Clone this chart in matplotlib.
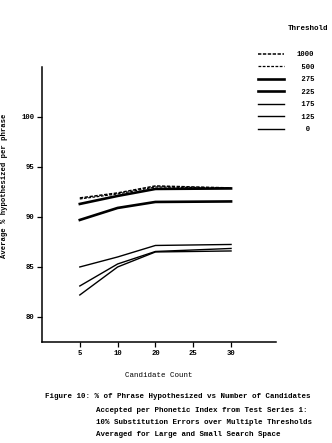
import matplotlib.pyplot as plt

plt.rcParams['font.family'] = 'Liberation Mono'
plt.rcParams['font.weight'] = 'bold'

# categorical x positions on the axis
candidate_ticks = [5, 10, 20, 25, 30]
candidates = [5, 10, 20, 30]

thresholds = ['1000', ' 500', ' 275', ' 225', ' 175', ' 125', '  0']
t1000 = [91.9, 92.4, 93.1, 92.9]
t500 = [91.8, 92.3, 93.0, 92.9]
t275 = [91.3, 92.1, 92.8, 92.85]
t225 = [89.7, 90.9, 91.5, 91.55]
t175 = [85.0, 86.0, 87.15, 87.25]
t125 = [83.1, 85.3, 86.55, 86.85]
t0 = [82.2, 85.0, 86.5, 86.6]

series = [t1000, t500, t275, t225, t175, t125, t0]
styles = [(1.1, (0, (2.2, 1.0))), (0.9, (0, (2.2, 1.2))), (1.9, '-'), (1.9, '-'),
          (1.0, '-'), (1.0, '-'), (1.0, '-')]

fig = plt.figure(figsize=(3.32, 4.43), dpi=100)
ax = fig.add_axes([0.1265, 0.228, 0.705, 0.621])

xpos = [candidate_ticks.index(c) for c in candidates]
handles = []
for vals, lab, (lw, ls) in zip(series, thresholds, styles):
    h, = ax.plot(xpos, vals, color='black', lw=lw, linestyle=ls, label=lab)
    handles.append(h)

ax.set_xlim(-1.0, 5.19)
ax.set_ylim(77.5, 105)
ax.set_xticks(range(len(candidate_ticks)))
ax.set_xticklabels([str(c) for c in candidate_ticks])
ax.set_yticks([80, 85, 90, 95, 100])
ax.spines['top'].set_visible(False)
ax.spines['right'].set_visible(False)
ax.spines['left'].set_linewidth(1.1)
ax.spines['bottom'].set_linewidth(1.1)
ax.tick_params(labelsize=5.2, length=3.5, width=0.9, pad=2)

ax.set_xlabel('Candidate Count', fontsize=5.4, labelpad=11)
fig.text(5 / 332, 1 - 186 / 443, 'Average % hypothesized per phrase',
         fontsize=5.2, rotation=90, ha='center', va='center')

fig.text(308 / 332, 1 - 28 / 443, 'Threshold', fontsize=5.4,
         ha='center', va='center')
leg = fig.legend(handles=handles, labels=thresholds,
                 loc='upper left', bbox_to_anchor=(258 / 332, 1 - 51 / 443),
                 frameon=False, fontsize=5.2, handlelength=3.6,
                 handletextpad=1.8, labelspacing=0.76, borderpad=0,
                 borderaxespad=0)

caption = ['Figure 10: % of Phrase Hypothesized vs Number of Candidates',
           'Accepted per Phonetic Index from Test Series 1:',
           '10% Substitution Errors over Multiple Thresholds',
           'Averaged for Large and Small Search Space']
fig.text(45 / 332, 1 - 397 / 443, caption[0], fontsize=5.4, va='center')
for i, line in enumerate(caption[1:]):
    fig.text(96 / 332, 1 - (410 + 12.3 * i) / 443, line, fontsize=5.4, va='center')

fig.savefig('out.png', dpi=100)
